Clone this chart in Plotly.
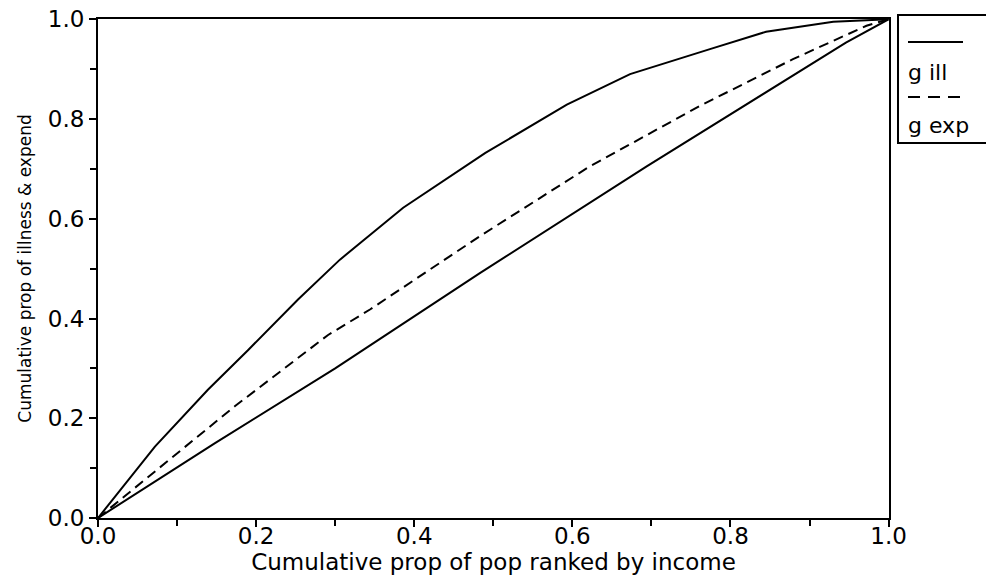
import plotly.graph_objects as go

# Data
ill_x = [0, 0.072, 0.139, 0.19, 0.253, 0.306, 0.386, 0.49, 0.593, 0.673, 0.774, 0.845, 0.93, 1.0]
ill_y = [0, 0.143, 0.257, 0.337, 0.438, 0.518, 0.622, 0.732, 0.829, 0.89, 0.94, 0.975, 0.995, 1.0]

exp_x = [0, 0.059, 0.173, 0.291, 0.344, 0.483, 0.622, 0.761, 0.879, 0.972, 1.0]
exp_y = [0, 0.076, 0.224, 0.367, 0.418, 0.565, 0.705, 0.826, 0.92, 0.987, 1.0]

eq_x = [0, 0.148, 0.30, 0.483, 0.694, 0.883, 0.946, 1.0]
eq_y = [0, 0.15, 0.30, 0.491, 0.705, 0.89, 0.953, 1.0]

tick_vals = [0.0, 0.2, 0.4, 0.6, 0.8, 1.0]
tick_text = ["0.0", "0.2", "0.4", "0.6", "0.8", "1.0"]

legend_labels = ["g ill", "g exp"]
x_title = "Cumulative prop of pop ranked by income"
y_title = "Cumulative prop of illness & expend"

FONT = "DejaVu Sans"

fig = go.Figure()
fig.add_trace(go.Scatter(x=eq_x, y=eq_y, mode="lines", line=dict(color="black", width=2),
                         name="equality", showlegend=False))
fig.add_trace(go.Scatter(x=exp_x, y=exp_y, mode="lines",
                         line=dict(color="black", width=2, dash="10px,6px"),
                         name=legend_labels[1], showlegend=False))
fig.add_trace(go.Scatter(x=ill_x, y=ill_y, mode="lines", line=dict(color="black", width=2),
                         name=legend_labels[0], showlegend=False))

axis_common = dict(
    range=[0, 1.0005], tickmode="array", tickvals=tick_vals, ticktext=tick_text,
    showgrid=False, zeroline=False,
    showline=True, linecolor="black", linewidth=2, mirror=True,
    ticks="outside", ticklen=7, tickwidth=1.5, tickcolor="black",
    minor=dict(tickmode="linear", tick0=0, dtick=0.1, ticks="outside", ticklen=6,
               tickwidth=1.5, tickcolor="black", showgrid=False),
    tickfont=dict(family=FONT, size=23, color="black"),
    ticklabeloverflow="allow",
)

fig.update_xaxes(**axis_common, ticklabelstandoff=-11,
                 title=dict(text=x_title, font=dict(family=FONT, size=23, color="black"), standoff=4))
fig.update_yaxes(**axis_common,
                 title=dict(text=y_title, font=dict(family=FONT, size=17, color="black"), standoff=12))

# Manual legend box (line sample above each label); positions in reference pixels
def px_x(p):
    return (p - 98) / 791

def px_y(p):
    return (518 - p) / 499

shapes = [
    dict(type="rect", xref="paper", yref="paper", x0=px_x(898), x1=px_x(1000),
         y0=px_y(143), y1=px_y(15), line=dict(color="black", width=2), fillcolor="white"),
    dict(type="line", xref="paper", yref="paper", x0=px_x(908), x1=px_x(963),
         y0=px_y(42), y1=px_y(42), line=dict(color="black", width=2)),
    dict(type="line", xref="paper", yref="paper", x0=px_x(908), x1=px_x(963),
         y0=px_y(97), y1=px_y(97), line=dict(color="black", width=2, dash="12px,8px")),
]
annotations = [
    dict(xref="paper", yref="paper", x=px_x(906), y=px_y(72), text=legend_labels[0],
         showarrow=False, xanchor="left", yanchor="middle",
         font=dict(family=FONT, size=22, color="black")),
    dict(xref="paper", yref="paper", x=px_x(906), y=px_y(125), text=legend_labels[1],
         showarrow=False, xanchor="left", yanchor="middle",
         font=dict(family=FONT, size=22, color="black")),
]

fig.update_layout(
    width=986, height=576,
    margin=dict(l=98, r=986 - 889, t=19, b=576 - 518, autoexpand=False),
    plot_bgcolor="white", paper_bgcolor="white",
    shapes=shapes, annotations=annotations,
    showlegend=False,
)

fig.write_html("out.html", config={"displayModeBar": False},
               post_script="document.body.style.margin='0';")
